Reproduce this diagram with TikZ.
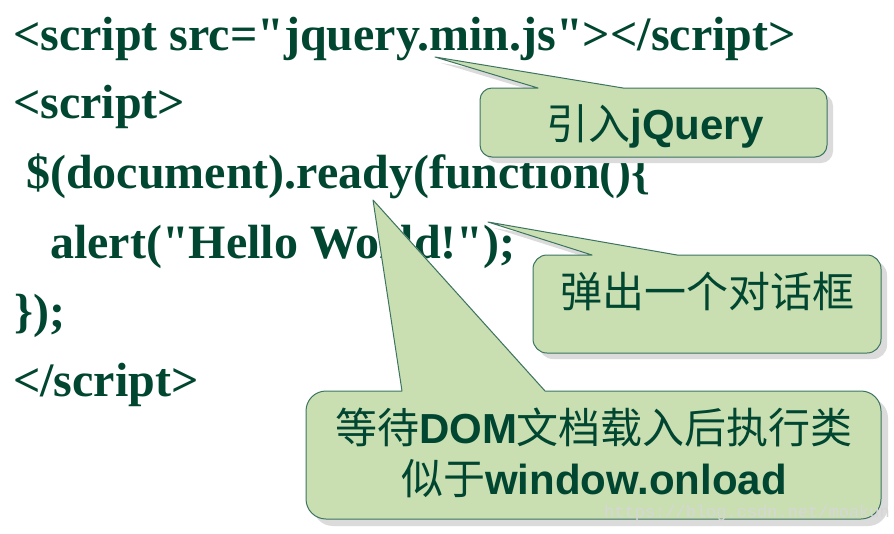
\documentclass[tikz,border=0pt]{standalone}
\usepackage{fontspec}
\setmainfont{Liberation Serif}[Ligatures=TeXOff]
\setsansfont{Liberation Sans}
\setmonofont{Liberation Mono}
\newfontfamily\cjk{Noto Sans CJK SC}
\definecolor{codegreen}{HTML}{004630}
\definecolor{bubblefill}{HTML}{C9DFB2}
\definecolor{bubbleline}{HTML}{3C7460}
\newcommand{\cshape}[9]{%
  (#8,#9) -- (#6,#2) -- ({#1+#5},#2)
  arc[start angle=270,end angle=180,radius=#5] -- (#1,{#4-#5})
  arc[start angle=180,end angle=90,radius=#5] -- ({#3-#5},#4)
  arc[start angle=90,end angle=0,radius=#5] -- (#3,{#2+#5})
  arc[start angle=0,end angle=-90,radius=#5] -- (#7,#2) -- cycle}
\newcommand{\lat}[1]{{\sffamily\bfseries #1}}
\tikzset{
  codeline/.style={anchor=base west,inner sep=0pt,text=codegreen,
    font=\bfseries\fontsize{48}{56}\selectfont},
  bubble/.style={fill=bubblefill,draw=bubbleline,line width=1pt,line join=round},
  bubbleshadow/.style={fill=black!14},
  bubbletext/.style={anchor=base,inner sep=0pt,text=codegreen,
    font=\fontsize{42}{52}\selectfont},
  watermark/.style={anchor=base west,inner sep=0pt,text=white!84!black,
    font=\ttfamily\fontsize{17}{20}\selectfont}
}
\begin{document}
\begin{tikzpicture}[x=1pt,y=-1pt]
\useasboundingbox[fill=white] (0,0) rectangle (894,533);
% code
\node[codeline] (l1) at (13,50) {<script src="jquery.min.js"></script>};
\node[codeline] (l2) at (13,118) {<script>};
\node[codeline] (l3) at (26,188) {\$(document).ready(function()\{};
\node[codeline] (l4) at (50,258) {alert("Hello World!");};
\node[codeline] (l5) at (14,327) {\});};
\node[codeline] (l6) at (13,396) {</script>};
% callout 1
\fill[bubbleshadow,shift={(6,6)}] \cshape{480}{88}{827}{157}{12}{538}{623}{435}{57};
\path[bubble] \cshape{480}{88}{827}{157}{12}{538}{623}{435}{57};
\node[bubbletext] (t1) at (655,139) {{\cjk 引入}\lat{jQuery}};
% callout 2
\fill[bubbleshadow,shift={(6,6)}] \cshape{533}{255}{881}{353}{14}{592}{677}{488}{222};
\path[bubble] \cshape{533}{255}{881}{353}{14}{592}{677}{488}{222};
\node[bubbletext] (t2) at (707,307) {\cjk 弹出一个对话框};
% callout 3
\fill[bubbleshadow,shift={(7,7)}] \cshape{306}{391}{881}{519}{20}{402}{545}{373}{200};
\path[bubble] \cshape{306}{391}{881}{519}{20}{402}{545}{373}{200};
\node[bubbletext] (t3a) at (594,443) {{\cjk 等待}\lat{DOM}{\cjk 文档载入后执行类}};
\node[bubbletext] (t3b) at (594,494) {{\cjk 似于}\lat{window.onload}};
% watermark
\node[watermark] (wm) at (604,517) {https://blog.csdn.net/moakun};
\end{tikzpicture}
\end{document}
